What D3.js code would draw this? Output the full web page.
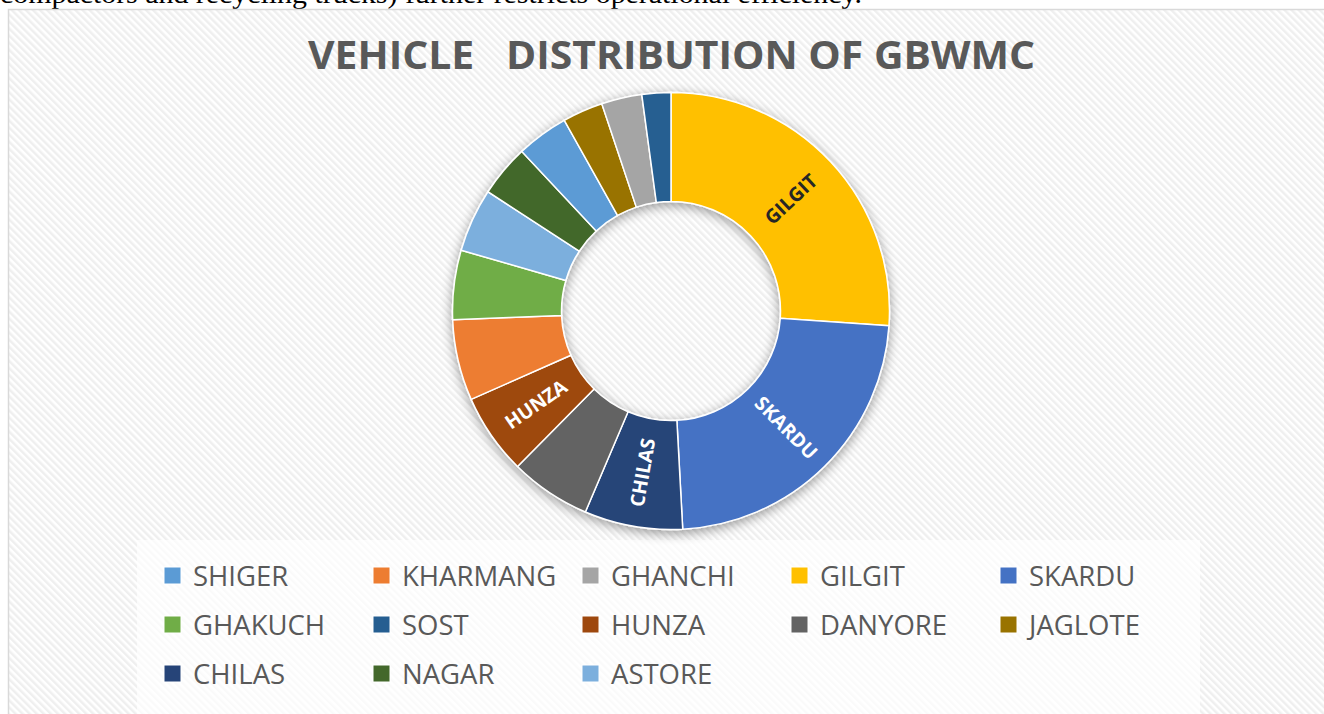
<!DOCTYPE html>
<html>
<head>
<meta charset="utf-8">
<script src="https://cdn.jsdelivr.net/npm/d3@7"></script>
<style>
  body { margin: 0; background: #fff; overflow: hidden; }
</style>
</head>
<body>
<div id="chart"></div>
<script>
// vehicles per district, in the order the slices run clockwise from 12 o'clock
const districts = ["GILGIT", "SKARDU", "CHILAS", "DANYORE", "HUNZA", "KHARMANG", "GHAKUCH", "ASTORE", "NAGAR", "SHIGER", "JAGLOTE", "GHANCHI", "SOST"];
const vehicles = [61, 54, 17, 14, 14, 14, 12, 11, 9, 9, 7, 7, 5];
const sliceColors = ["#FFC000", "#4472C4", "#264478", "#636363", "#9E480E", "#ED7D31", "#70AD47", "#7CAFDD", "#43682B", "#5B9BD5", "#997300", "#A5A5A5", "#255E91"];
// order of the entries in the legend
const legendOrder = ["SHIGER", "KHARMANG", "GHANCHI", "GILGIT", "SKARDU", "GHAKUCH", "SOST", "HUNZA", "DANYORE", "JAGLOTE", "CHILAS", "NAGAR", "ASTORE"];
// slices that carry a label
const labelled = ["GILGIT", "SKARDU", "CHILAS", "HUNZA"];

const chartTitle = "VEHICLE   DISTRIBUTION OF GBWMC";
const pageText = "compactors and recycling trucks) further restricts operational efficiency.";

var width = 1324, height = 714;
var cx = 671, cy = 311;

var svg = d3.select("#chart")
    .append("svg")
    .attr("width", width)
    .attr("height", height);

var defs = svg.append("defs");

// diagonal hatch of the chart area
var hatch = defs.append("pattern")
    .attr("id", "hatch")
    .attr("patternUnits", "userSpaceOnUse")
    .attr("width", 5)
    .attr("height", 5)
    .attr("patternTransform", "rotate(-45)");
hatch.append("rect").attr("width", 5).attr("height", 5).attr("fill", "#ffffff");
hatch.append("rect").attr("width", 2.5).attr("height", 5).attr("fill", "#efefef");

// soft shadow under the ring
var shadow = defs.append("filter")
    .attr("id", "ringShadow")
    .attr("x", "-20%").attr("y", "-20%")
    .attr("width", "140%").attr("height", "140%");
shadow.append("feGaussianBlur").attr("in", "SourceAlpha").attr("stdDeviation", 6).attr("result", "blur");
shadow.append("feOffset").attr("in", "blur").attr("dx", 0).attr("dy", 3).attr("result", "off");
shadow.append("feComponentTransfer").attr("in", "off").attr("result", "soft")
    .append("feFuncA").attr("type", "linear").attr("slope", 0.4);
var merge = shadow.append("feMerge");
merge.append("feMergeNode").attr("in", "soft");
merge.append("feMergeNode").attr("in", "SourceGraphic");

// the cut-off line of the document above the chart
svg.append("text")
    .attr("x", 0)
    .attr("y", 3)
    .attr("font-family", "'Liberation Serif', 'Times New Roman', serif")
    .attr("font-size", 28)
    .attr("fill", "#000")
    .attr("textLength", 862)
    .attr("lengthAdjust", "spacingAndGlyphs")
    .text(pageText);

// chart area
svg.append("rect")
    .attr("x", 8.5)
    .attr("y", 9.5)
    .attr("width", 1330)
    .attr("height", 720)
    .attr("fill", "url(#hatch)")
    .attr("stroke", "#d9d9d9")
    .attr("stroke-width", 1.5);

// legend backing
svg.append("rect")
    .attr("x", 137)
    .attr("y", 540)
    .attr("width", 1063)
    .attr("height", 190)
    .attr("fill", "#ffffff")
    .attr("opacity", 0.7);

// title
svg.append("text")
    .attr("x", 671.5)
    .attr("y", 69)
    .attr("text-anchor", "middle")
    .attr("font-family", "'Open Sans', 'DejaVu Sans', sans-serif")
    .attr("font-weight", "bold")
    .attr("font-size", 40)
    .attr("fill", "#595959")
    .attr("textLength", 727)
    .attr("lengthAdjust", "spacingAndGlyphs")
    .style("white-space", "pre")
    .text(chartTitle);

var color = d3.scaleOrdinal().domain(districts).range(sliceColors);

var pieData = districts.map((d, i) => ({name: d, value: vehicles[i]}));
var pie = d3.pie().sort(null).value(d => d.value);
var arcs = pie(pieData);

var arc = d3.arc().innerRadius(109.5).outerRadius(218.5);

var ring = svg.append("g")
    .attr("transform", `translate(${cx},${cy})`);

ring.append("g")
    .attr("filter", "url(#ringShadow)")
    .selectAll("path")
    .data(arcs)
    .join("path")
    .attr("d", arc)
    .attr("fill", d => color(d.data.name))
    .attr("stroke", "#ffffff")
    .attr("stroke-width", 1.5);

// rotated slice labels
ring.selectAll(".slice-label")
    .data(arcs.filter(d => labelled.includes(d.data.name)))
    .join("text")
    .attr("class", "slice-label")
    .attr("transform", d => {
        var c = arc.centroid(d);
        var mid = (d.startAngle + d.endAngle) / 2 * 180 / Math.PI;
        var rot = mid - 90;
        if (rot > 90) rot -= 180;
        return `translate(${c[0]},${c[1]}) rotate(${rot})`;
    })
    .attr("text-anchor", "middle")
    .attr("dy", "0.36em")
    .attr("font-family", "'Open Sans', 'DejaVu Sans', sans-serif")
    .attr("font-weight", "bold")
    .attr("font-size", 19.5)
    .attr("fill", d => d.data.name == "GILGIT" ? "#262626" : "#ffffff")
    .text(d => d.data.name);

// legend, five columns
var colX = d3.scaleLinear().domain([0, 4]).range([164, 1000]);
var rowY = d3.scaleLinear().domain([0, 2]).range([567, 665]);

var legend = svg.append("g")
    .selectAll("g")
    .data(legendOrder)
    .join("g")
    .attr("transform", (d, i) => `translate(${colX(i % 5)},${rowY(Math.floor(i / 5))})`);

legend.append("rect")
    .attr("width", 17)
    .attr("height", 17)
    .attr("fill", d => color(d))
    .attr("stroke", "#ffffff")
    .attr("stroke-width", 1);

legend.append("text")
    .attr("x", 29)
    .attr("y", 19)
    .attr("font-family", "'Open Sans', 'DejaVu Sans', sans-serif")
    .attr("font-size", 27.5)
    .attr("fill", "#595959")
    .text(d => d);
</script>
</body>
</html>
